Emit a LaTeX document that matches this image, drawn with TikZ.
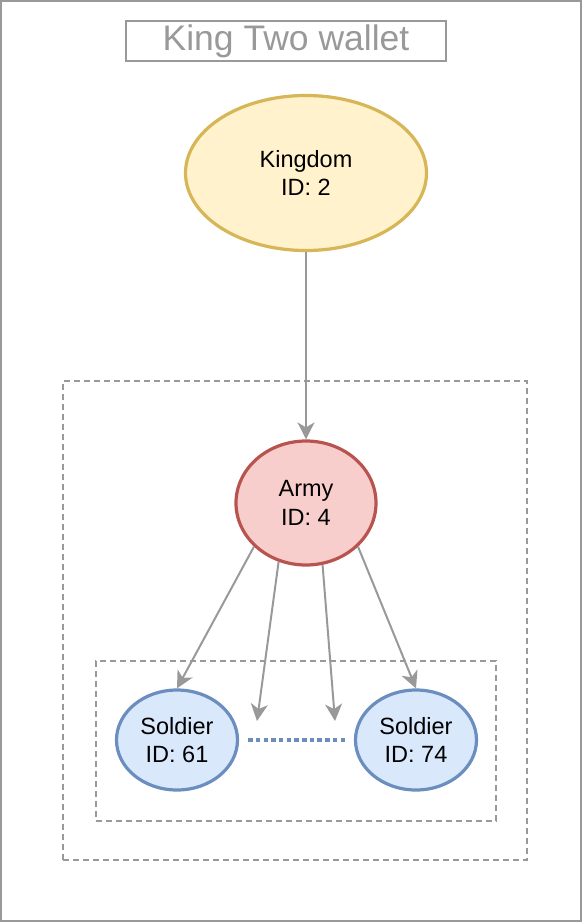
\documentclass[tikz,border=0pt]{standalone}
\usepackage{fontspec}
\setmainfont{Liberation Sans}
\usetikzlibrary{arrows.meta,shapes.geometric}
\definecolor{linegray}{HTML}{999999}
\definecolor{kfill}{HTML}{FFF2CC}\definecolor{kdraw}{HTML}{D6B656}
\definecolor{afill}{HTML}{F8CECC}\definecolor{adraw}{HTML}{B85450}
\definecolor{sfill}{HTML}{DAE8FC}\definecolor{sdraw}{HTML}{6C8EBF}
\tikzset{
  ell/.style={ellipse,line width=3.2pt,inner sep=0pt,align=center,font=\fontsize{23.5}{28.5}\selectfont},
  conn/.style={draw=linegray,line width=2pt,-{Stealth[length=17pt,width=17pt,inset=5pt]}},
  dashbox/.style={draw=linegray,line width=1.8pt,dash pattern=on 6pt off 4pt},
}
\begin{document}
\begin{tikzpicture}[x=1pt,y=-1pt]
\useasboundingbox (0,0) rectangle (582,922);
\draw[linegray,line width=2pt] (1,1) rectangle (581,921);
\node[draw=linegray,line width=2pt,minimum width=320pt,minimum height=40pt,inner sep=0pt,text=linegray,font=\fontsize{35.5}{40}\selectfont] (title) at (286,41) {King Two wallet};
\node[dashbox,minimum width=464pt,minimum height=479pt,inner sep=0pt] (outerbox) at (295,620.5) {};
\node[dashbox,minimum width=400pt,minimum height=160pt,inner sep=0pt] (innerbox) at (296,741) {};
\node[ell,fill=kfill,draw=kdraw,minimum width=241pt,minimum height=155pt] (kingdom) at (306,173) {Kingdom\\ID: 2};
\node[ell,fill=afill,draw=adraw,minimum width=140pt,minimum height=124pt] (army) at (306,503) {Army\\ID: 4};
\node[ell,fill=sfill,draw=sdraw,minimum width=121pt,minimum height=100pt] (s61) at (177,740) {Soldier\\ID: 61};
\node[ell,fill=sfill,draw=sdraw,minimum width=121pt,minimum height=100pt] (s74) at (416,740) {Soldier\\ID: 74};
\coordinate (m1) at (257,721);
\coordinate (m2) at (335,721);
\draw[conn] (kingdom.south) -- (army.north);
\draw[conn] (army.220) -- (s61.north);
\draw[conn] (army.245) -- (m1);
\draw[conn] (army.285) -- (m2);
\draw[conn] (army.320) -- (s74.north);
\draw[sdraw,line width=3.3pt,dash pattern=on 4.5pt off 3.2pt] ([xshift=9pt]s61.east) -- ([xshift=-9pt]s74.west);
\end{tikzpicture}
\end{document}
